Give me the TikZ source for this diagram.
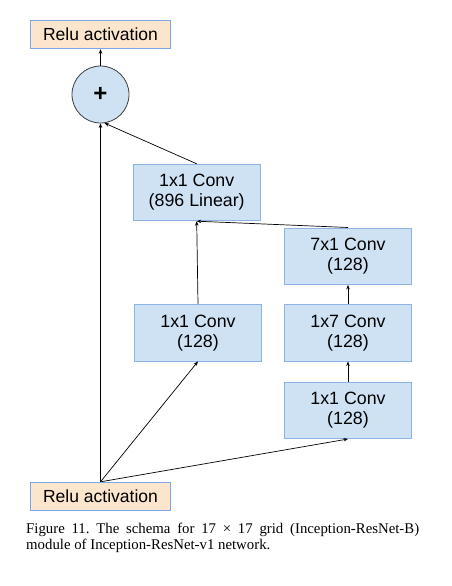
\documentclass[tikz,border=0pt]{standalone}
\usepackage{fontspec}
\setmainfont{Liberation Sans}
\newfontfamily\capfont{Liberation Serif}
\usetikzlibrary{arrows.meta}
\frenchspacing
\definecolor{boxfill}{HTML}{CFE2F3}
\definecolor{boxline}{HTML}{8DB3E2}
\definecolor{relufill}{HTML}{FCE5CD}
\definecolor{reluline}{HTML}{7FA7E6}
\tikzset{
  convbox/.style={draw=boxline, fill=boxfill, line width=0.9pt, minimum width=127pt, minimum height=56.5pt, inner sep=0pt, align=center, font=\fontsize{17.8}{20}\selectfont},
  relubox/.style={draw=reluline, fill=relufill, line width=0.9pt, minimum width=140.5pt, minimum height=28.5pt, inner sep=0pt, font=\fontsize{17.5}{20}\selectfont},
  addnode/.style={circle, draw=black!75, fill=boxfill, line width=0.8pt, minimum size=57pt, inner sep=0pt},
  conn/.style={-{Stealth[length=4.5pt,width=3.5pt]}, line width=0.7pt, black},
  captext/.style={font=\capfont\fontsize{14.8}{16}\selectfont, inner sep=0pt, anchor=base west}
}
\begin{document}
\begin{tikzpicture}[x=1pt,y=-1pt]
\useasboundingbox (0,0) rectangle (451,586);
\node[relubox] (tr) at (100.5,34.5) {Relu activation};
\node[addnode] (c) at (100.5,94.5) {\fontsize{24}{24}\selectfont\bfseries +};
\node[convbox] (b896) at (196.7,192.5) {1x1 Conv\\(896 Linear)};
\node[convbox] (r3) at (348,256.2) {7x1 Conv\\(128)};
\node[convbox] (l1) at (198,332.7) {1x1 Conv\\(128)};
\node[convbox] (r2) at (348,332.7) {1x7 Conv\\(128)};
\node[convbox] (r1) at (348,410.3) {1x1 Conv\\(128)};
\node[relubox] (br) at (100.5,496.5) {Relu activation};
\draw[conn] (br.north) -- (c.south);
\draw[conn] (br.north) -- (l1.south);
\draw[conn] (br.north) -- (r1.south);
\draw[conn] (r1.north) -- (r2.south);
\draw[conn] (r2.north) -- (r3.south);
\draw[conn] (r3.north) -- (b896.south);
\draw[conn] (l1.north) -- (b896.south);
\draw[conn] (b896.north) -- (c.-82);
\draw[conn] (c.north) -- (tr.south);
\node[captext] (cap1) at (26,533) {\makebox[393pt][s]{Figure 11. The schema for 17 × 17 grid (Inception-ResNet-B)}};
\node[captext] (cap2) at (26,549) {module of Inception-ResNet-v1 network.};
\end{tikzpicture}
\end{document}
